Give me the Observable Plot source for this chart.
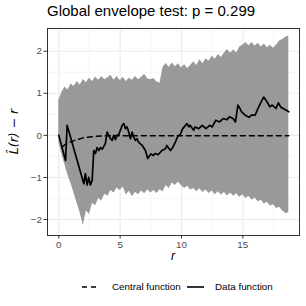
<!DOCTYPE html>
<html><head><meta charset="utf-8">
<script src="https://cdn.jsdelivr.net/npm/d3@7"></script>
<script src="https://cdn.jsdelivr.net/npm/@observablehq/plot@0.6"></script>
<style>
body{margin:0;width:306px;height:306px;background:#fff;font-family:"Liberation Sans",Arial,sans-serif;position:relative;overflow:hidden}
#title{position:absolute;left:47px;top:1px;font-size:15px;color:#000;white-space:nowrap;line-height:20px}
#chart{position:absolute;left:0;top:22px}
#legend{position:absolute;left:0;top:279px;width:306px;height:16px;font-size:9.8px;color:#000}
#legend svg{position:absolute;top:0}
#legend span{position:absolute;top:2px;white-space:nowrap;line-height:12px}
</style></head>
<body>
<div id="title">Global envelope test: p = 0.299</div>
<div id="chart"></div>
<div id="legend">
  <svg style="left:82px" width="17" height="16"><line x1="0" x2="17" y1="8" y2="8" stroke="#000" stroke-width="1.5" stroke-dasharray="5,4"/></svg>
  <span style="left:112px">Central function</span>
  <svg style="left:187px" width="17" height="16"><line x1="0" x2="17" y1="8" y2="8" stroke="#000" stroke-width="1.6"/></svg>
  <span style="left:215px">Data function</span>
</div>
<script>
// ---- data ----
const envR = [0,0.25,0.5,0.75,1,1.25,1.5,1.75,2,2.25,2.5,2.75,3,3.25,3.5,3.75,4,4.25,4.5,4.75,5,5.25,5.5,5.75,6,6.25,6.5,6.75,7,7.25,7.5,7.75,8,8.25,8.5,8.75,9,9.25,9.5,9.75,10,10.25,10.5,10.75,11,11.25,11.5,11.75,12,12.25,12.5,12.75,13,13.25,13.5,13.75,14,14.25,14.5,14.75,15,15.25,15.5,15.75,16,16.25,16.5,16.75,17,17.25,17.5,17.75,18,18.25,18.5,18.75];
const envHi = [0.83,1.02,1.15,1.08,1.22,1.16,1.28,1.20,1.33,1.25,1.36,1.28,1.38,1.31,1.40,1.32,1.37,1.43,1.31,1.40,1.30,1.38,1.28,1.36,1.31,1.40,1.32,1.38,1.45,1.34,1.32,1.35,1.27,1.24,1.62,1.71,1.62,1.72,1.63,1.70,1.60,1.68,1.59,1.66,1.75,1.66,1.80,1.70,1.82,1.76,1.88,1.81,1.92,1.85,1.96,2.04,1.95,2.03,1.96,2.10,2.14,2.21,2.13,2.21,2.12,2.19,2.10,2.17,2.08,2.14,2.07,2.15,2.24,2.28,2.33,2.36];
const envLo = [-0.15,-0.45,-0.70,-0.95,-1.15,-1.38,-1.62,-1.85,-2.14,-1.80,-1.88,-1.62,-1.67,-1.50,-1.56,-1.40,-1.45,-1.31,-1.37,-1.25,-1.31,-1.23,-1.42,-1.33,-1.46,-1.35,-1.41,-1.32,-1.39,-1.29,-1.37,-1.31,-1.38,-1.29,-1.34,-1.19,-1.26,-1.13,-1.19,-1.11,-1.20,-1.26,-1.21,-1.30,-1.26,-1.34,-1.27,-1.36,-1.30,-1.38,-1.32,-1.41,-1.34,-1.42,-1.36,-1.44,-1.37,-1.45,-1.39,-1.47,-1.41,-1.50,-1.45,-1.54,-1.49,-1.58,-1.54,-1.63,-1.59,-1.68,-1.65,-1.74,-1.71,-1.80,-1.86,-1.84];
const centralR = [0.3,0.5,1.0,1.5,2.0,2.5,3.0,4.0,6.0,10.0,14.0,18.75];
const centralV = [-0.27,-0.22,-0.15,-0.10,-0.06,-0.04,-0.02,-0.01,-0.01,-0.01,-0.01,-0.01];
const dataR = [0,0.55,0.68,2.04,2.17,2.31,2.44,2.58,2.72,2.85,2.99,3.12,3.26,3.4,3.53,3.67,3.8,3.94,4.07,4.2,4.35,4.48,4.62,4.75,4.89,5.17,5.3,5.44,5.57,5.7,5.84,5.98,6.1,6.25,6.38,6.5,6.65,6.8,7.06,7.25,7.5,7.7,7.85,8.1,8.4,8.7,8.8,9.1,9.3,9.5,9.7,9.9,10.1,10.45,10.6,10.7,11,11.1,11.4,11.7,12,12.3,12.5,12.8,13.1,13.4,13.7,13.9,14.2,14.4,14.6,14.8,14.9,15.2,15.5,15.7,16,16.3,16.5,16.7,16.9,17.2,17.4,17.7,17.9,18.1,18.4,18.75];
const dataV = [0,-0.6,0.24,-1.15,-0.91,-1.18,-1.0,-1.18,-1.07,-0.36,-0.43,-0.29,-0.36,-0.29,-0.33,-0.26,-0.19,0.08,0,-0.07,-0.12,0,-0.1,0,0.02,0.24,0.28,0.16,0.2,0.08,-0.08,0.08,-0.04,-0.12,-0.08,-0.16,-0.2,-0.24,-0.36,-0.55,-0.44,-0.48,-0.43,-0.46,-0.36,-0.32,-0.24,-0.36,-0.28,-0.16,-0.02,0.02,0.16,0.28,0.2,0.24,0.12,0.2,0.16,0.24,0.16,0.24,0.2,0.36,0.32,0.4,0.37,0.44,0.4,0.32,0.72,0.62,0.56,0.48,0.43,0.48,0.48,0.68,0.8,0.91,0.83,0.68,0.72,0.64,0.77,0.67,0.62,0.56];
const xMajor = [0,5,10,15];
const xMinor = [2.5,7.5,12.5,17.5];
const yMajor = [-2,-1,0,1,2];
const yMinor = [-1.5,-0.5,0.5,1.5,2.5];
const xLabel = "r";
const yLabel = "L\u0302(r) \u2212 r";

// ---- tables ----
const env = envR.map((r,i)=>({r, lo: envLo[i], hi: envHi[i]}));
const central = centralR.map((r,i)=>({r, v: centralV[i]}));
const obs = dataR.map((r,i)=>({r, v: dataV[i]}));

const W = 306, H = 240, mL = 47, mR = 7, mT = 6, mB = 27;
const chart = Plot.plot({
  width: W, height: H, marginLeft: mL, marginRight: mR, marginTop: mT, marginBottom: mB,
  x: {domain: [-0.92, 19.62]},
  y: {domain: [-2.38, 2.54]},
  style: {fontFamily: "Liberation Sans, Arial, sans-serif", fontSize: "9.8px", color: "#4d4d4d", background: "white", overflow: "visible"},
  marks: [
    Plot.gridX(xMinor, {stroke: "#f0f0f0", strokeOpacity: 1, strokeWidth: 0.6}),
    Plot.gridY(yMinor, {stroke: "#f0f0f0", strokeOpacity: 1, strokeWidth: 0.6}),
    Plot.gridX(xMajor, {stroke: "#ebebeb", strokeOpacity: 1, strokeWidth: 1.1}),
    Plot.gridY(yMajor, {stroke: "#ebebeb", strokeOpacity: 1, strokeWidth: 1.1}),
    Plot.areaY(env, {x: "r", y1: "lo", y2: "hi", fill: "#999999"}),
    Plot.lineY(central, {x: "r", y: "v", stroke: "#000", strokeWidth: 1.5, strokeDasharray: "5,4"}),
    Plot.lineY(obs, {x: "r", y: "v", stroke: "#000", strokeWidth: 1.7, strokeLinejoin: "round"}),
    Plot.frame({stroke: "#333333", strokeWidth: 1}),
    Plot.axisX(xMajor, {tickSize: 3.5, tickPadding: 2, label: null, stroke: "#333333", fill: "#4d4d4d"}),
    Plot.axisY(yMajor, {tickSize: 3.5, tickPadding: 2, label: null, stroke: "#333333", fill: "#4d4d4d"})
  ]
});
document.getElementById("chart").appendChild(chart);

// axis titles as SVG text
const svg = d3.select(chart);
const panelCX = mL + (W - mL - mR) / 2;
const panelCY = mT + (H - mT - mB) / 2;
svg.append("text")
  .attr("x", panelCX).attr("y", 238)
  .attr("text-anchor", "middle")
  .attr("font-size", 12.5).attr("font-style", "italic").attr("fill", "#000")
  .attr("font-family", "Liberation Sans, Arial, sans-serif")
  .text(xLabel);
svg.append("text")
  .attr("transform", `translate(14,${panelCY}) rotate(-90)`)
  .attr("text-anchor", "middle").attr("dominant-baseline", "middle")
  .attr("font-size", 12.5).attr("font-style", "italic").attr("fill", "#000")
  .attr("font-family", "DejaVu Sans, Liberation Sans, sans-serif")
  .text(yLabel);
</script>
</body></html>
